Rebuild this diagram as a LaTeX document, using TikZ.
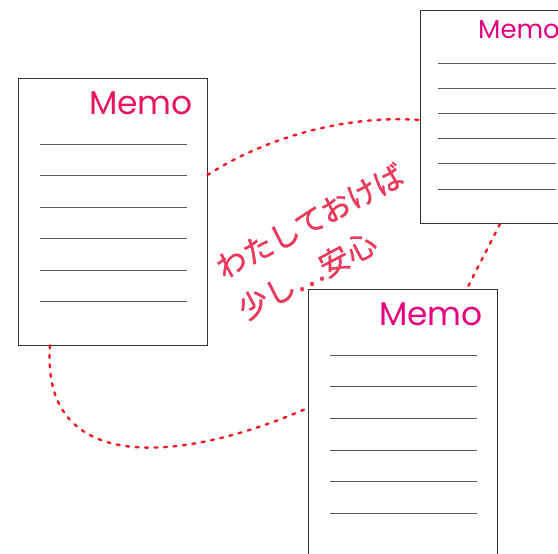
\documentclass[tikz,border=0pt]{standalone}
\usepackage{fontspec}
\newfontfamily\memofont{Poppins}
\newfontfamily\jpfont[FakeBold=1.2]{Noto Sans CJK JP}
\usepackage{tikz}
\definecolor{memored}{HTML}{E8155F}
\definecolor{memopink}{HTML}{E4007F}
\definecolor{notered}{HTML}{E83A5C}
\definecolor{linkred}{HTML}{EE1C25}
\tikzset{
	sheet/.style={draw=black!80, fill=white, line width=0.8bp, inner sep=0pt,
		minimum width=189bp, minimum height=267bp},
	title/.style={font=\memofont\fontsize{33}{33}\selectfont, inner sep=0pt},
	rule/.style={draw=black!65, line width=0.9bp},
	link/.style={draw=linkred, line width=2.4bp, line cap=round, dash pattern=on 3bp off 6.5bp},
}

\begin{document}
\begin{tikzpicture}[x=1bp,y=-1bp]
	\useasboundingbox (0,0) rectangle (558,554);
	\clip (0,0) rectangle (558,554);

	\node (memoA) at (112.5,211.5) [sheet] {};
	\node (memoB) at (495.6,116.8) [sheet, minimum width=151.2bp, minimum height=213.6bp] {};
	\node (memoC) at (402.5,422.5) [sheet] {};

	\node (titleA) at (141,103) [title, text=memored] {Memo};
	\node (titleB) at (519,30)  [title, text=memopink, font=\memofont\fontsize{26}{26}\selectfont] {Memo};
	\node (titleC) at (431,314) [title, text=memopink] {Memo};

	\draw [rule] (40,144) -- (187,144) (40,175) -- (187,175) (40,207) -- (187,207)
	             (40,238) -- (187,238) (40,270) -- (187,270) (40,301) -- (187,301);
	\draw [rule] (438,63) -- (556,63) (438,88) -- (556,88) (438,113) -- (556,113)
	             (438,138) -- (556,138) (438,163) -- (556,163) (438,189) -- (556,189);
	\draw [rule] (330,355) -- (477,355) (330,386) -- (477,386) (330,418) -- (477,418)
	             (330,450) -- (477,450) (330,481) -- (477,481) (330,513) -- (477,513);

	\node (note) at (321,242) [rotate=28, align=left, text=notered, inner sep=0pt,
		font=\jpfont\fontsize{30}{47}\selectfont] {わたしておけば\\少し…安心};

	\draw [link] ([yshift=36.5bp]memoA.east) .. controls (270,135) and (350,115) .. ([yshift=-3.2bp]memoB.west);
	\draw [link] ([xshift=4.4bp]memoB.south) -- ([xshift=64.5bp]memoC.north);
	\draw [link] ([xshift=-62.5bp]memoA.south) .. controls (40,480) and (190,460) .. ([yshift=14.5bp]memoC.west);
\end{tikzpicture}
\end{document}
